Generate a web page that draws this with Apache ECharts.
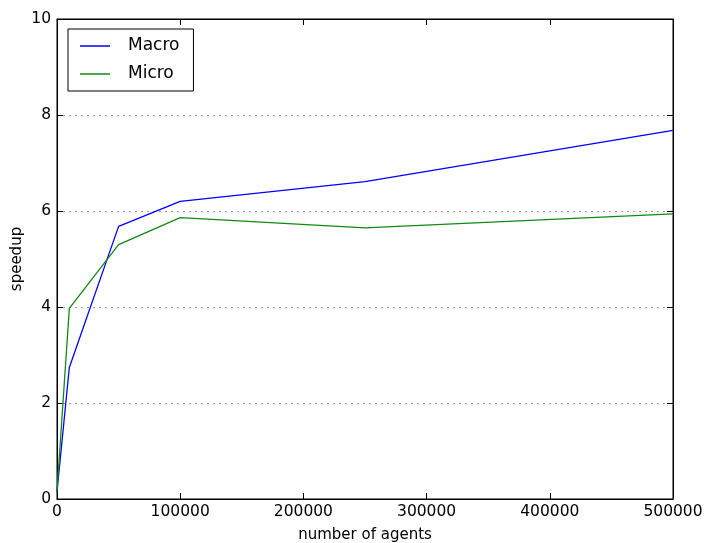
<!DOCTYPE html>
<html><head><meta charset="utf-8">
<script src="https://cdn.jsdelivr.net/npm/echarts@6/dist/echarts.min.js"></script>
<style>html,body{margin:0;padding:0;background:#fff}#c{width:707px;height:543px}</style>
</head><body><div id="c"></div>
<script>
const agents = [0, 10000, 50000, 100000, 250000, 500000];
const macro = [0.15, 2.74, 5.68, 6.2, 6.61, 7.68];
const micro = [0.15, 3.97, 5.3, 5.86, 5.65, 5.94];
const xTicks = [0, 100000, 200000, 300000, 400000, 500000];
const yTicks = [0, 2, 4, 6, 8, 10];

const font = 'DejaVu Sans';
const chart = echarts.init(document.getElementById('c'), null, {renderer: 'canvas'});
const pairs = a => agents.map((x, i) => [x, a[i]]);
const tick = {show: true, inside: true, length: 6, lineStyle: {color: '#000', width: 1}};
chart.setOption({
  animation: false,
  backgroundColor: '#fff',
  grid: {left: 57, right: 34, top: 19, bottom: 44, show: true, borderColor: '#000', borderWidth: 1,
         containLabel: false, outerBoundsMode: 'none'},
  legend: {
    orient: 'vertical', left: 68, top: 29,
    borderColor: '#000', borderWidth: 1, borderRadius: 0,
    padding: [8, 14, 8, 12],
    itemWidth: 30, itemHeight: 1.5, itemGap: 10, icon: 'rect',
    textStyle: {fontFamily: font, fontSize: 17, color: '#000', padding: [0, 0, 0, 13], lineHeight: 18},
    data: ['Macro', 'Micro']
  },
  xAxis: [{
    type: 'value', min: 0, max: 500000, interval: 100000,
    name: 'number of agents', nameLocation: 'middle', nameGap: 29, nameMoveOverlap: false,
    nameTextStyle: {fontFamily: font, fontSize: 15, color: '#000'},
    axisLine: {show: true, onZero: false, lineStyle: {color: '#000', width: 1}},
    axisTick: tick, splitLine: {show: false},
    axisLabel: {fontFamily: font, fontSize: 15.5, color: '#000', margin: 5, formatter: v => String(v)}
  }, {
    type: 'value', position: 'top', min: 0, max: 500000, interval: 100000,
    axisLine: {show: true, onZero: false, lineStyle: {color: '#000', width: 1}},
    axisTick: tick, axisLabel: {show: false}, splitLine: {show: false}
  }],
  yAxis: [{
    type: 'value', min: 0, max: 10, interval: 2,
    name: 'speedup', nameLocation: 'middle', nameGap: 32, nameRotate: 90, nameMoveOverlap: false,
    nameTextStyle: {fontFamily: font, fontSize: 15, color: '#000'},
    axisLine: {show: true, onZero: false, lineStyle: {color: '#000', width: 1}},
    axisTick: tick,
    splitLine: {show: true, lineStyle: {color: '#999', type: [2, 4], width: 1}},
    axisLabel: {fontFamily: font, fontSize: 15.5, color: '#000', margin: 6}
  }, {
    type: 'value', position: 'right', min: 0, max: 10, interval: 2,
    axisLine: {show: true, onZero: false, lineStyle: {color: '#000', width: 1}},
    axisTick: tick, axisLabel: {show: false}, splitLine: {show: false}
  }],
  series: [
    {name: 'Macro', type: 'line', data: pairs(macro), symbol: 'none', color: '#0000ff', lineStyle: {width: 1.3}},
    {name: 'Micro', type: 'line', data: pairs(micro), symbol: 'none', color: '#108a10', lineStyle: {width: 1.3}},
    {type: 'line', xAxisIndex: 1, yAxisIndex: 1, data: [], silent: true}
  ]
});
</script></body></html>
